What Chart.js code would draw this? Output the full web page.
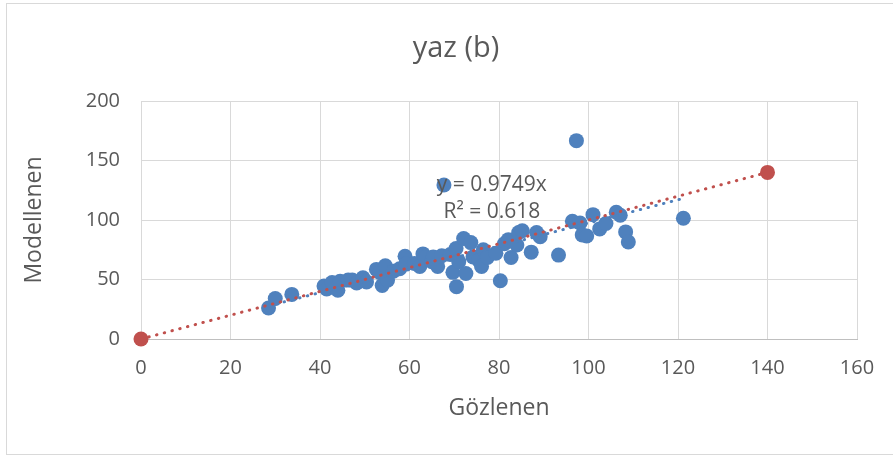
<!DOCTYPE html>
<html>
<head>
<meta charset="utf-8">
<title>yaz (b)</title>
<script src="https://cdn.jsdelivr.net/npm/chart.js@4.4.0/dist/chart.umd.min.js"></script>
<style>
	html, body { margin: 0; padding: 0; background: #ffffff; }
	#wrap { width: 893px; height: 457px; }
</style>
</head>
<body>
<div id="wrap"><canvas id="chart" width="893" height="457"></canvas></div>
<script>
// Observed values (Gözlenen)
const observed = [
	28.5, 30, 33.7, 40.9, 41.5, 42.7, 44, 44.5, 46.3, 47.2,
	48.2, 49.6, 50.4, 52.6, 53.4, 53.9, 54.6, 55.1, 56.4, 57.8,
	59, 59.2, 61.1, 62.3, 63, 63.5, 65, 65.3, 66.3, 67.2,
	67.7, 69.1, 69.7, 70.5, 70.4, 71, 72.1, 72.6, 73.7, 74.2,
	75.5, 76.1, 76.5, 77.4, 79.3, 80.3, 81.2, 82.1, 82.7, 84,
	84.4, 85.2, 87.2, 88.4, 89.2, 93.3, 96.4, 97.3, 98.1, 98.6,
	99.6, 101, 102.5, 103.9, 106.2, 107.1, 108.3, 108.9, 121.2
];
// Modelled values (Modellenen)
const modelled = [
	26, 34, 37.5, 44.5, 42, 47.5, 41, 48.5, 49.5, 49.5,
	47, 51.5, 48, 58.5, 56, 45, 61.5, 49.5, 57, 59,
	69.5, 63, 63.5, 61, 71.5, 68.5, 65, 69, 61, 70,
	129.4, 71, 56, 44, 76, 65, 84.5, 55, 81, 69,
	66, 61, 75, 68.5, 72, 49, 80, 83.5, 68.5, 79,
	89.5, 91, 73, 89.5, 86, 70.5, 99, 166.7, 97.5, 87.5,
	86.5, 104.5, 92.5, 97, 106.5, 104, 90, 81.5, 101.5
];
// 1:1 reference line end points
const refLine = [0, 140];
// Linear trend through the origin
const trendSlope = 0.9749;
const trendR2 = 0.618;

const xTicks = [0, 20, 40, 60, 80, 100, 120, 140, 160];
const yTicks = [0, 50, 100, 150, 200];

const blue = "#4F81BD";
const red = "#C0504D";
const textGray = "#595959";
const gridGray = "#d9d9d9";
const font = "'Open Sans', 'Liberation Sans', sans-serif";

const scatterData = observed.map((x, i) => ({ x: x, y: modelled[i] }));
const refData = refLine.map(v => ({ x: v, y: v }));
const xMin = Math.min(...observed);
const xMax = Math.max(...observed);
const trendData = [
	{ x: xMin, y: trendSlope * xMin },
	{ x: xMax, y: trendSlope * xMax }
];

// Frame, chart title and trendline label
const decorations = {
	id: "decorations",
	beforeDraw(chart) {
		const ctx = chart.ctx;
		ctx.save();
		ctx.fillStyle = "#ffffff";
		ctx.fillRect(0, 0, chart.width, chart.height);
		ctx.strokeStyle = gridGray;
		ctx.lineWidth = 1;
		ctx.strokeRect(6.5, 3.5, 900, 451);
		ctx.fillStyle = textGray;
		ctx.font = "29px " + font;
		ctx.textAlign = "center";
		ctx.textBaseline = "middle";
		ctx.fillText("yaz (b)", 456, 49);
		ctx.restore();
	},
	afterDatasetsDraw(chart) {
		const ctx = chart.ctx;
		const xs = chart.scales.x;
		const ys = chart.scales.y;
		ctx.save();
		ctx.fillStyle = textGray;
		ctx.font = "21px " + font;
		ctx.textAlign = "center";
		ctx.textBaseline = "middle";
		ctx.fillText("y = " + trendSlope + "x", xs.getPixelForValue(78.4), ys.getPixelForValue(129));
		ctx.fillText("R² = " + trendR2, xs.getPixelForValue(78.4), ys.getPixelForValue(106.5));
		ctx.restore();
	}
};

const ctx = document.getElementById("chart").getContext("2d");
const chart = new Chart(ctx, {
	type: "scatter",
	data: {
		datasets: [
			{
				// red dotted 1:1 line with its end markers
				data: refData,
				showLine: true,
				clip: false,
				borderColor: red,
				borderWidth: 3,
				borderDash: [0.5, 7.5],
				borderCapStyle: "round",
				pointRadius: 7.5,
				pointBackgroundColor: red,
				pointBorderWidth: 0
			},
			{
				// blue dotted trendline
				data: trendData,
				showLine: true,
				borderColor: blue,
				borderWidth: 3,
				borderDash: [0.5, 7.5],
				borderCapStyle: "round",
				pointRadius: 0
			},
			{
				data: scatterData,
				backgroundColor: blue,
				borderWidth: 0,
				pointRadius: 7.5
			}
		]
	},
	plugins: [decorations],
	options: {
		responsive: false,
		animation: false,
		layout: { padding: { top: 101, right: 36, left: 0, bottom: 0 } },
		plugins: {
			legend: { display: false },
			title: { display: false },
			tooltip: { enabled: false }
		},
		scales: {
			x: {
				type: "linear",
				min: 0,
				max: 160,
				afterBuildTicks: scale => {
					scale.ticks = xTicks.map(v => ({ value: v }));
				},
				afterFit: scale => {
					scale.height = 118;
				},
				grid: { color: gridGray, drawTicks: false },
				border: { color: "#bfbfbf", width: 1 },
				ticks: { color: textGray, padding: 17, font: { family: font, size: 20 } },
				title: {
					display: true,
					text: "Gözlenen",
					color: textGray,
					padding: { top: 0, bottom: 35 },
					font: { family: font, size: 23 }
				}
			},
			y: {
				type: "linear",
				min: 0,
				max: 200,
				afterBuildTicks: scale => {
					scale.ticks = yTicks.map(v => ({ value: v }));
				},
				afterFit: scale => {
					scale.width = 141;
				},
				grid: { color: gridGray, drawTicks: false },
				border: { display: false },
				ticks: { color: textGray, padding: 21, font: { family: font, size: 20 } },
				title: {
					display: true,
					text: "Modellenen",
					color: textGray,
					padding: { top: 21, bottom: 0 },
					font: { family: font, size: 23 }
				}
			}
		}
	}
});
</script>
</body>
</html>
